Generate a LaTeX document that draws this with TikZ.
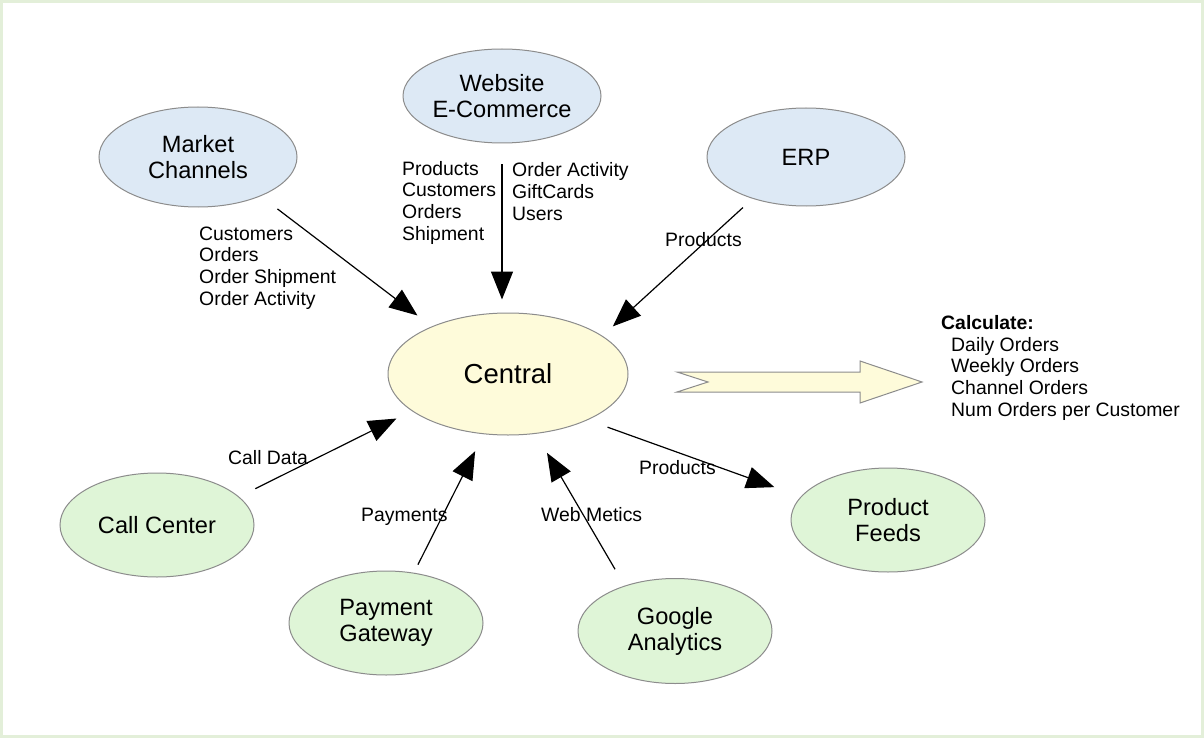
\documentclass[tikz,border=0pt]{standalone}
\usepackage{fontspec}
\setmainfont{Liberation Sans}
\usetikzlibrary{shapes.geometric,arrows.meta}
\definecolor{blueFill}{HTML}{DDE9F5}
\definecolor{greenFill}{HTML}{DFF5D7}
\definecolor{yellowFill}{HTML}{FEFBDA}
\definecolor{edgeGray}{HTML}{8C8C8C}
\definecolor{frameGreen}{HTML}{E3EFD9}
\begin{document}
\begin{tikzpicture}[x=1pt,y=-1pt,
  sys/.style={ellipse, draw=edgeGray, line width=1pt, inner sep=0pt, align=center,
              font=\fontsize{23.6}{26}\selectfont},
  bluesys/.style={sys, fill=blueFill, minimum width=198pt, minimum height=96pt},
  greensys/.style={sys, fill=greenFill, minimum width=194pt, minimum height=104pt},
  flow/.style={draw=black, line width=1.2pt, -{Triangle[length=28pt,width=22pt]}},
  lbl/.style={inner sep=0pt, anchor=base west, align=left,
              font=\fontsize{19.4}{21.6}\selectfont}]
\useasboundingbox (0,0) rectangle (1204,738);
\fill[white] (0,0) rectangle (1204,738);
\draw[frameGreen, line width=3pt] (1.5,1.5) rectangle (1202.5,736.5);

% nodes
\node[bluesys, minimum height=100pt] (mc) at (198,157) {Market\\Channels};
\node[bluesys, minimum height=94pt] (web) at (502,96) {Website\\E-Commerce};
\node[bluesys, minimum height=98pt] (erp) at (806,157) {ERP};
\node[sys, fill=yellowFill, minimum width=240pt, minimum height=122pt,
      font=\fontsize{27.5}{30}\selectfont] (central) at (508,374) {Central};
\node[greensys] (cc) at (157,525) {Call Center};
\node[greensys] (pay) at (386,623) {Payment\\Gateway};
\node[greensys, minimum height=105pt] (ga) at (675,631) {Google\\Analytics};
\node[greensys] (pf) at (888,520) {Product\\Feeds};

% connectors
\draw[flow, shorten <=21pt, shorten >=18pt] (mc.-32) -- (central.148);
\draw[flow, shorten <=21pt, shorten >=13pt] (web.south) -- (web.south |- central.north);
\draw[flow, shorten <=13pt, shorten >=14pt] (erp.218) -- (central.22.5);
\draw[flow, shorten <=18pt, shorten >=17pt] (cc.19) -- (central.201.8);
\draw[flow, shorten <=9pt, shorten >=19pt] (pay.61) -- (central.248.3);
\draw[flow, shorten <=19pt, shorten >=22pt] (ga.138) -- (central.-65.2);
\draw[flow, shorten <=21pt, shorten >=28pt] (central.-30.7) -- (pf.165.4);

% labels (base = baseline of last line)
\node[lbl] (l1) at (199,305) {Customers\\Orders\\Order Shipment\\Order Activity};
\node[lbl] (l2) at (402,240) {Products\\Customers\\Orders\\Shipment};
\node[lbl] (l3) at (512,220) {Order Activity\\GiftCards\\Users};
\node[lbl] (l4) at (665,246) {Products};
\node[lbl] (l5) at (228,464) {Call Data};
\node[lbl] (l6) at (361,521) {Payments};
\node[lbl] (l7) at (541,521) {Web Metics};
\node[lbl] (l8) at (639,474) {Products};

% big arrow
\draw[edgeGray, fill=yellowFill, line width=1pt]
  (677,372) -- (860,372) -- (860,361) -- (922,382) -- (860,403) -- (860,392)
  -- (677,392) -- (708,382) -- cycle;

\node[lbl] (calc) at (941,416) {\textbf{Calculate:}\\
  \hspace*{10pt}Daily Orders\\
  \hspace*{10pt}Weekly Orders\\
  \hspace*{10pt}Channel Orders\\
  \hspace*{10pt}Num Orders per Customer};
\end{tikzpicture}
\end{document}
